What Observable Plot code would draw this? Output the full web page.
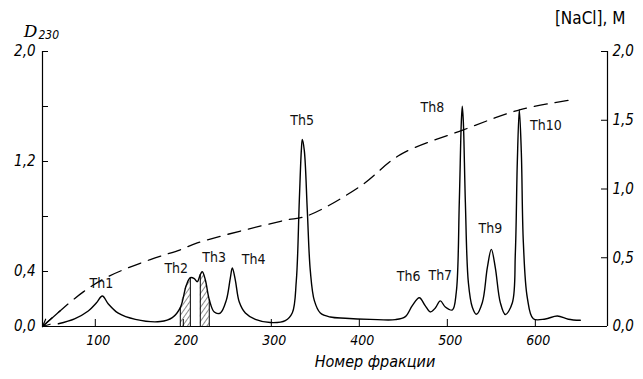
<!DOCTYPE html>
<html><head><meta charset="utf-8">
<script src="https://cdn.jsdelivr.net/npm/d3@7"></script>
<script src="https://cdn.jsdelivr.net/npm/@observablehq/plot@0.6"></script>
<style>body{margin:0;background:#fff}svg{display:block}</style>
</head><body><div id="chart"></div>
<script>
// D230 elution profile (fraction number, absorbance)
const fraction = [58,76.4,92,101.1,108,114.8,126.1,145.5,173.9,187.5,196.6,203.4,208,212.5,215.9,219.3,221.6,225,229.5,235.2,242,248.9,253.4,255.7,259.1,263.6,270.5,281.8,298.9,315.9,323.9,328.4,331.8,334.1,335.2,337.5,340.9,344.3,348.9,355.7,367,384.1,412.5,440.9,452.3,460.2,468.2,475,480.7,486.4,492,497.7,505.7,510.2,513.6,515.9,517,518.2,520.5,523.9,528.4,533,539.8,545.5,550,554.5,560.2,565.9,573.9,577.3,579.5,581.8,584.1,586.4,590.9,597.7,611.4,625,637.5,651.1];
const d230 = [0.02,0.056,0.113,0.171,0.222,0.164,0.097,0.052,0.036,0.064,0.137,0.30,0.355,0.348,0.326,0.377,0.398,0.34,0.196,0.105,0.098,0.192,0.352,0.425,0.338,0.178,0.098,0.052,0.029,0.043,0.1,0.333,0.915,1.279,1.36,1.279,0.842,0.406,0.188,0.098,0.069,0.06,0.052,0.05,0.072,0.152,0.209,0.15,0.106,0.135,0.186,0.142,0.12,0.251,0.905,1.487,1.603,1.487,0.904,0.32,0.14,0.089,0.175,0.43,0.561,0.429,0.174,0.087,0.173,0.537,1.19,1.577,1.264,0.609,0.209,0.056,0.055,0.076,0.053,0.045];
// NaCl gradient (dashed)
const naclFraction = [40,60.2,86.4,113.6,162.5,196.6,215.9,313.6,340.9,401.1,446.6,518.2,583,645.5];
const nacl = [0,0.115,0.252,0.36,0.487,0.558,0.608,0.77,0.805,1.02,1.25,1.43,1.577,1.653];
// peak labels
const peakLabels = ["Th1","Th2","Th3","Th4","Th5","Th6","Th7","Th8","Th9","Th10"];
const peakLabelX = [107,192,235,280,335,456,492,483,549,612];
const peakLabelY = [0.31,0.42,0.50,0.49,1.50,0.36,0.37,1.59,0.71,1.46];
// hatched fraction ranges
const hatchRanges = [[196,209],[219,230]];
// axes
const xDomain = [40, 682];
const yDomain = [0, 2];
const xTicks = [100,200,300,400,500,600];
const leftTicks = [0,0.4,0.8,1.2,1.6,2.0];
const leftLabeled = [0,0.4,1.2,2.0];
const rightTicks = [0,0.5,1.0,1.5,2.0];

const curve = fraction.map((f,i)=>({f, d:d230[i]}));
const gradient = naclFraction.map((f,i)=>({f, c:nacl[i]}));
const labels = peakLabels.map((t,i)=>({t, x:peakLabelX[i], y:peakLabelY[i]}));
const bands = hatchRanges.map(([a,b]) => curve.filter(p => p.f >= a && p.f <= b));
const bandEdges = bands.flatMap(b => [b[0], b[b.length-1]]);

const fmt = d => d.toFixed(1).replace(".", ",");
const FONT = "'Liberation Sans Narrow','DejaVu Sans Condensed',sans-serif";
const W = 643, H = 379, ML = 42, MR = 36, MT = 51, MB = 53;
const FW = W - ML - MR, FH = H - MT - MB;

const plot = Plot.plot({
  width: W, height: H,
  marginLeft: ML, marginRight: MR, marginTop: MT, marginBottom: MB,
  style: {fontFamily: FONT, background: "#fff", color: "#000"},
  x: {domain: xDomain},
  y: {domain: yDomain},
  marks: [
    ...bands.map(b => Plot.areaY(b, {x:"f", y:"d", curve:"catmull-rom", fill:"url(#hatch)"})),
    Plot.ruleX(bandEdges, {x:"f", y1:0, y2:"d", stroke:"#000", strokeWidth:1}),
    // axis lines
    Plot.ruleX(xDomain, {stroke:"#000", strokeWidth:1.2}),
    Plot.ruleY(yDomain.slice(0,1), {stroke:"#000", strokeWidth:1.2}),
    // inward ticks
    Plot.tickX(xTicks, {x: d=>d, insetTop: FH - 7, stroke:"#000", strokeWidth:1}),
    Plot.tickY(leftTicks, {y: d=>d, insetRight: FW - 6, stroke:"#000", strokeWidth:1}),
    Plot.tickY(rightTicks, {y: d=>d, insetLeft: FW - 6, stroke:"#000", strokeWidth:1}),
    Plot.line(gradient, {x:"f", y:"c", curve:"catmull-rom", stroke:"#000", strokeWidth:1.3, strokeDasharray:"13,8"}),
    Plot.arrow(gradient.slice(0,1), {x1: () => gradient[1].f, y1: () => gradient[1].c, x2: "f", y2: "c", stroke:"#000", strokeWidth:1.2, headLength:11, headAngle:50, bend:0}),
    Plot.line(curve, {x:"f", y:"d", curve:"catmull-rom", stroke:"#000", strokeWidth:1.4}),
    Plot.text(labels, {x:"x", y:"y", text:"t", fontSize:14, fontFamily:FONT, fill:"#111"}),
    Plot.axisX(xTicks, {anchor:"bottom", tickSize:0, tickPadding:9, dx:3, fontSize:14, fontStyle:"italic", fontFamily:FONT, label:null}),
    Plot.axisY(leftTicks, {anchor:"left", tickSize:0, tickPadding:7, fontSize:15, fontStyle:"italic", fontFamily:FONT,
      tickFormat: d => leftLabeled.includes(d) ? fmt(d) : "", label:null}),
    Plot.axisY(rightTicks, {anchor:"right", tickSize:0, tickPadding:5, fontSize:15, fontStyle:"italic", fontFamily:FONT,
      tickFormat: fmt, label:null}),
    Plot.text(["Номер фракции"], {frameAnchor:"bottom", dx:50, dy:40, fontSize:16, fontStyle:"italic", fontFamily:FONT}),
    Plot.text(["D"], {frameAnchor:"top-left", dx:-12, dy:-15, lineAnchor:"bottom", fontSize:17, fontStyle:"italic", fontFamily:"'DejaVu Serif',serif", textAnchor:"middle"}),
    Plot.text(["230"], {frameAnchor:"top-left", dx:-4, dy:-13, lineAnchor:"bottom", fontSize:12, fontStyle:"italic", fontFamily:FONT, textAnchor:"start"}),
    Plot.text(["[NaCl], M"], {frameAnchor:"top-right", dx:18, dy:-28, lineAnchor:"bottom", fontSize:17, fontFamily:FONT, textAnchor:"end"})
  ]
});
const ns = "http://www.w3.org/2000/svg";
const defs = document.createElementNS(ns, "defs");
defs.innerHTML = '<pattern id="hatch" patternUnits="userSpaceOnUse" width="4" height="4" patternTransform="rotate(35)"><line x1="0" y1="0" x2="0" y2="4" stroke="#000" stroke-width="0.9"/></pattern>';
plot.insertBefore(defs, plot.firstChild);
document.getElementById("chart").append(plot);
</script>
</body></html>
